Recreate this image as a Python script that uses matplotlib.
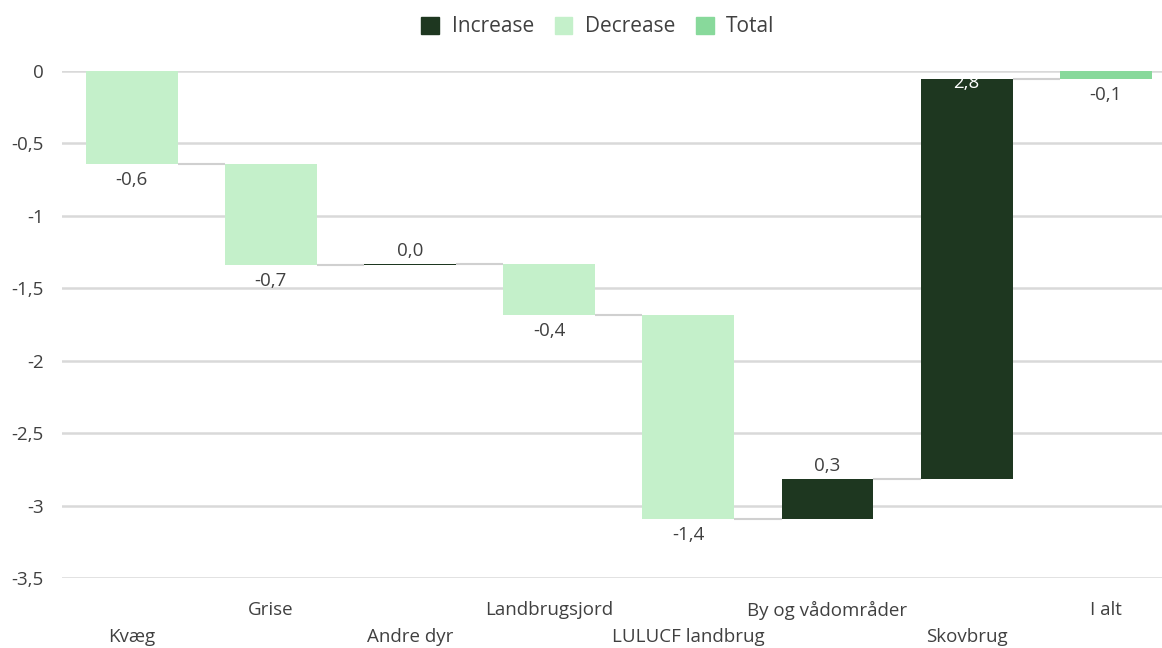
import matplotlib
matplotlib.use("Agg")
import matplotlib.pyplot as plt
from matplotlib.patches import Patch

categories = ["Kvæg", "Grise", "Andre dyr", "Landbrugsjord", "LULUCF landbrug",
              "By og vådområder", "Skovbrug", "I alt"]
changes = [-0.64, -0.70, 0.005, -0.35, -1.41, 0.28, 2.76]
total_label = "Total"
yticks = [0, -0.5, -1, -1.5, -2, -2.5, -3, -3.5]

C_INC = "#1e3720"
C_DEC = "#c4f0ca"
C_TOT = "#88d99b"
TXT = "#404040"
FONT = ["Open Sans", "DejaVu Sans"]

plt.rcParams["font.family"] = FONT

fig = plt.figure(figsize=(11.62, 6.48), dpi=100)
ax = fig.add_axes([62 / 1162, 70 / 648, 1 - 62 / 1162, (578 - 71) / 648])

def fmt(v):
    return f"{v:.1f}".replace(".", ",")

label_vals = [-0.6, -0.7, 0.0, -0.4, -1.4, 0.3, 2.8, -0.1]

width = 0.66
cum = 0.0
bottoms, heights, colors, ends = [], [], [], []
for v in changes:
    bottoms.append(cum)
    heights.append(v)
    colors.append(C_INC if v > 0 else C_DEC)
    cum += v
    ends.append(cum)
total = cum
bottoms.append(0)
heights.append(total)
colors.append(C_TOT)
ends.append(total)

xs = list(range(len(categories)))
ax.bar(xs, heights, bottom=bottoms, width=width, color=colors, zorder=3)

# connectors
for i in range(len(categories) - 1):
    ax.plot([xs[i] + width / 2, xs[i + 1] - width / 2], [ends[i], ends[i]],
            color="#d0d0d0", lw=1.5, zorder=2, solid_capstyle="butt")

LFS = 13.5
# labels
for i, (b, h) in enumerate(zip(bottoms, heights)):
    top = b + h
    lab = fmt(label_vals[i])
    if i == 6:
        ax.annotate(lab, (xs[i], max(b, top)), xytext=(0, -3), textcoords="offset points",
                    ha="center", va="center", color="white", fontsize=LFS)
    elif h > 0:
        ax.annotate(lab, (xs[i], top), xytext=(0, 3), textcoords="offset points",
                    ha="center", va="bottom", color=TXT, fontsize=LFS)
    else:
        ax.annotate(lab, (xs[i], min(b, top)), xytext=(0, -5), textcoords="offset points",
                    ha="center", va="top", color=TXT, fontsize=LFS)

ax.set_xlim(-0.5, 7.5 - 13.5 / 139)
ax.set_ylim(-3.5, 0)
ax.set_yticks(yticks)
ax.set_yticklabels([fmt(t) if t != int(t) else str(int(t)) for t in yticks],
                   color=TXT, fontsize=LFS)
ax.tick_params(axis="y", length=0, pad=13)
ax.grid(axis="y", color="#d9d9d9", lw=1.8, zorder=0)
ax.set_axisbelow(True)
for s in ax.spines.values():
    s.set_visible(False)

ax.set_xticks(xs)
ax.set_xticklabels([])
ax.tick_params(axis="x", length=0)
for i, c in enumerate(categories):
    ypix = 637 if i % 2 == 0 else 610
    ax.text(xs[i], -(ypix - 578) / (578 - 71), c, transform=ax.get_xaxis_transform(),
            ha="center", va="center", color=TXT, fontsize=LFS)

handles = [Patch(color=C_INC, label="Increase"), Patch(color=C_DEC, label="Decrease"),
           Patch(color=C_TOT, label=total_label)]
fig.legend(handles=handles, loc="center", bbox_to_anchor=(598 / 1162, 1 - 27 / 648), ncol=3,
           frameon=False, fontsize=15, handlelength=0.85, handleheight=0.85,
           handletextpad=0.6, columnspacing=1.0, labelcolor=TXT)

fig.savefig("out.png", dpi=100)
